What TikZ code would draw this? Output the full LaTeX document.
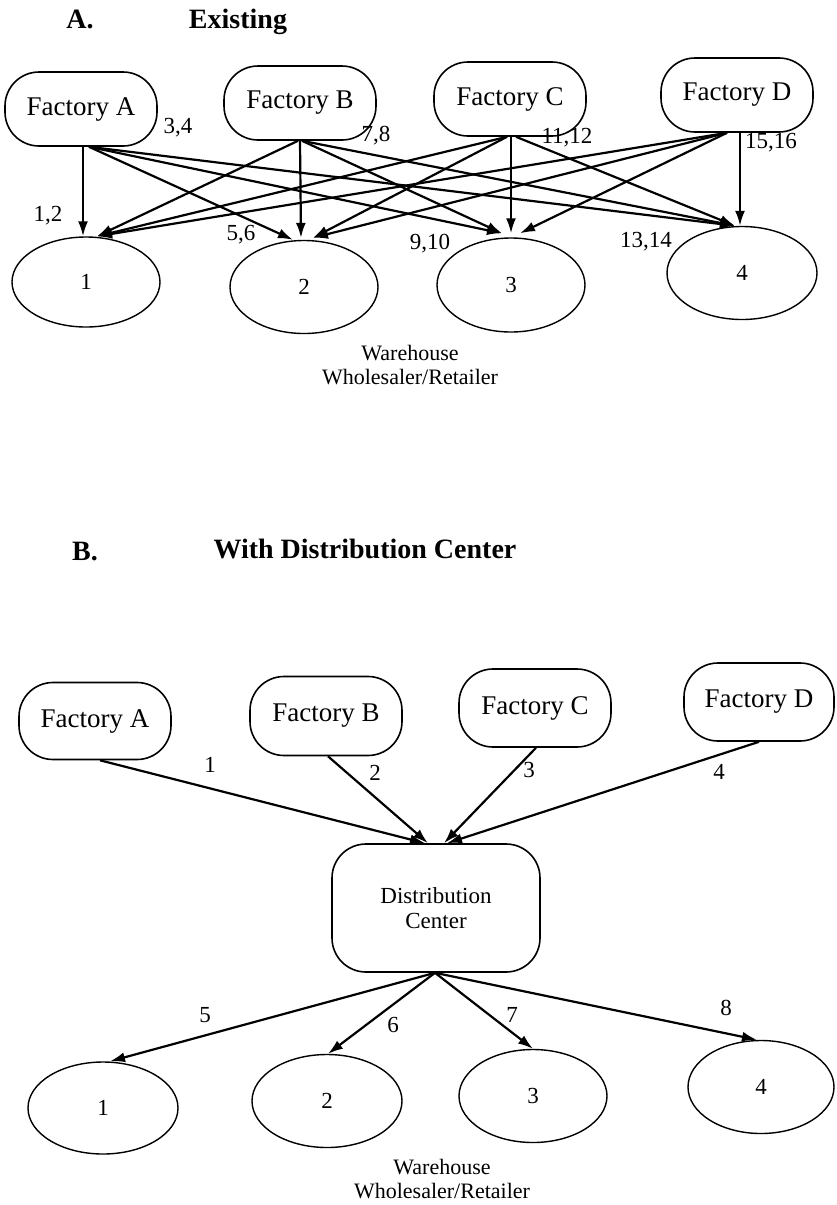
\documentclass[tikz,border=0pt]{standalone}
\usepackage{fontspec}
\setmainfont{Liberation Serif}
\usetikzlibrary{shapes.geometric,arrows.meta}

\tikzset{
  factory/.style={draw, line width=0.8pt, rounded corners=17pt, minimum width=76pt,
    minimum height=37pt, inner sep=0pt, font=\fontsize{13.5}{15}\selectfont},
  depot/.style={draw, line width=0.7pt, ellipse, minimum width=74pt, minimum height=46pt,
    inner sep=0pt, font=\fontsize{11.5}{13}\selectfont},
  hub/.style={draw, line width=0.8pt, rounded corners=17pt, minimum width=104pt,
    minimum height=64pt, inner sep=0pt, align=center, font=\fontsize{11.5}{12.5}\selectfont},
  flow/.style={line width=1.1pt, -{Latex[length=7.5pt,width=5pt]}},
  lbl/.style={inner sep=0pt, font=\fontsize{11.5}{13}\selectfont},
  caption/.style={inner sep=0pt, align=center, font=\fontsize{11}{12}\selectfont},
  heading/.style={inner sep=0pt, anchor=base, font=\fontsize{14}{16}\bfseries\selectfont}
}

\begin{document}
\begin{tikzpicture}[x=0.5pt,y=-0.5pt]
\useasboundingbox (0,0) rectangle (836,1205);

% ---------- A. Existing ----------
\node[heading] (ta) at (80,28) {A.};
\node[heading] (te) at (238,28) {Existing};

\node[factory] (a) at (81,109) {Factory A};
\node[factory] (b) at (300,103) {Factory B};
\node[factory] (c) at (510,99) {Factory C};
\node[factory] (d) at (737,95) {Factory D};

\node[depot, minimum height=45pt] (w1) at (86,282) {1};
\node[depot, minimum height=46.5pt] (w2) at (304,287) {2};
\node[depot, minimum height=47pt] (w3) at (511,285) {3};
\node[depot, minimum width=75pt, minimum height=46.5pt] (w4) at (742,273) {4};

% shipments from Factory A
\draw[flow] ([xshift=1pt]a.south) -- ([xshift=-1.5pt]w1.north);
\draw[flow] ([xshift=4pt]a.south) -- ([xshift=-5.5pt]w2.north);
\draw[flow] ([xshift=4pt]a.south) -- ([xshift=-4.5pt,yshift=2pt]w3.north);
\draw[flow] ([xshift=4pt]a.south) -- ([xshift=-3.5pt]w4.north);
% shipments from Factory B
\draw[flow] ([xshift=-1pt]b.south) -- ([xshift=5.5pt]w1.north);
\draw[flow] (b.south) -- ([xshift=-1.5pt,yshift=1pt]w2.north);
\draw[flow] ([xshift=1pt]b.south) -- ([xshift=-4.5pt,yshift=2pt]w3.north);
\draw[flow] ([xshift=1pt]b.south) -- ([xshift=-3.5pt]w4.north);
% shipments from Factory C
\draw[flow] ([xshift=-1.5pt]c.south) -- ([xshift=5.5pt]w1.north);
\draw[flow] ([xshift=-1.5pt]c.south) -- ([xshift=4.5pt,yshift=1pt]w2.north);
\draw[flow] ([xshift=0.5pt]c.south) -- ([yshift=2pt]w3.north);
\draw[flow] ([xshift=3pt]c.south) -- ([xshift=-3.5pt]w4.north);
% shipments from Factory D
\draw[flow] ([xshift=-5pt]d.south) -- ([xshift=5.5pt]w1.north);
\draw[flow] ([xshift=-5pt]d.south) -- ([xshift=4.5pt,yshift=1pt]w2.north);
\draw[flow] ([xshift=-5pt]d.south) -- ([xshift=4.5pt,yshift=2pt]w3.north);
\draw[flow] ([xshift=1.5pt]d.south) -- ([xshift=-1pt]w4.north);

\node[lbl] (l34) at (178,128) {3,4};
\node[lbl] (l78) at (376,136) {7,8};
\node[lbl] (l1112) at (567,138) {11,12};
\node[lbl] (l1516) at (771,143) {15,16};
\node[lbl] (l12) at (48,216) {1,2};
\node[lbl] (l56) at (241,235) {5,6};
\node[lbl] (l910) at (430,244) {9,10};
\node[lbl] (l1314) at (646,242) {13,14};

\node[caption] (capa) at (410,365) {Warehouse\\Wholesaler/Retailer};

% ---------- B. With Distribution Center ----------
\node[heading] (tb) at (85,560) {B.};
\node[heading] (tw) at (365,558) {With Distribution Center};

\node[factory, minimum height=38.5pt] (fa) at (95,721) {Factory A};
\node[factory, minimum height=39.5pt] (fb) at (326,716) {Factory B};
\node[factory, minimum height=39pt] (fc) at (535,708) {Factory C};
\node[factory, minimum width=75pt, minimum height=39pt] (fd) at (759,702) {Factory D};

\node[hub] (dc) at (436,908) {Distribution\\Center};

\draw[flow] ([xshift=2.5pt]fa.south) -- ([xshift=-5.5pt]dc.north);
\draw[flow] ([xshift=1pt]fb.south) -- ([xshift=-4pt]dc.north);
\draw[flow] ([xshift=0.5pt]fc.south) -- ([xshift=4pt]dc.north);
\draw[flow] (fd.south) -- ([xshift=5.5pt]dc.north);

\node[lbl] (n1) at (210,765) {1};
\node[lbl] (n2) at (375,773) {2};
\node[lbl] (n3) at (529,770) {3};
\node[lbl] (n4) at (719,772) {4};

\node[depot, minimum width=75pt] (v1) at (103,1108) {1};
\node[depot, minimum width=75pt, minimum height=46.5pt] (v2) at (327,1101) {2};
\node[depot, minimum height=46.5pt] (v3) at (533,1096) {3};
\node[depot, minimum width=73pt, minimum height=46.5pt] (v4) at (761,1087) {4};

\draw[flow] ([xshift=-0.5pt]dc.south) -- ([xshift=3.5pt]v1.north);
\draw[flow] ([xshift=-0.5pt]dc.south) -- ([xshift=0.5pt]v2.north);
\draw[flow] ([xshift=-0.5pt]dc.south) -- (v3.north);
\draw[flow] ([xshift=-0.5pt]dc.south) -- ([xshift=-2pt]v4.north);

\node[lbl] (n5) at (205,1015) {5};
\node[lbl] (n6) at (393,1025) {6};
\node[lbl] (n7) at (512,1015) {7};
\node[lbl] (n8) at (726,1008) {8};

\node[caption] (capb) at (442,1179) {Warehouse\\Wholesaler/Retailer};
\end{tikzpicture}
\end{document}
